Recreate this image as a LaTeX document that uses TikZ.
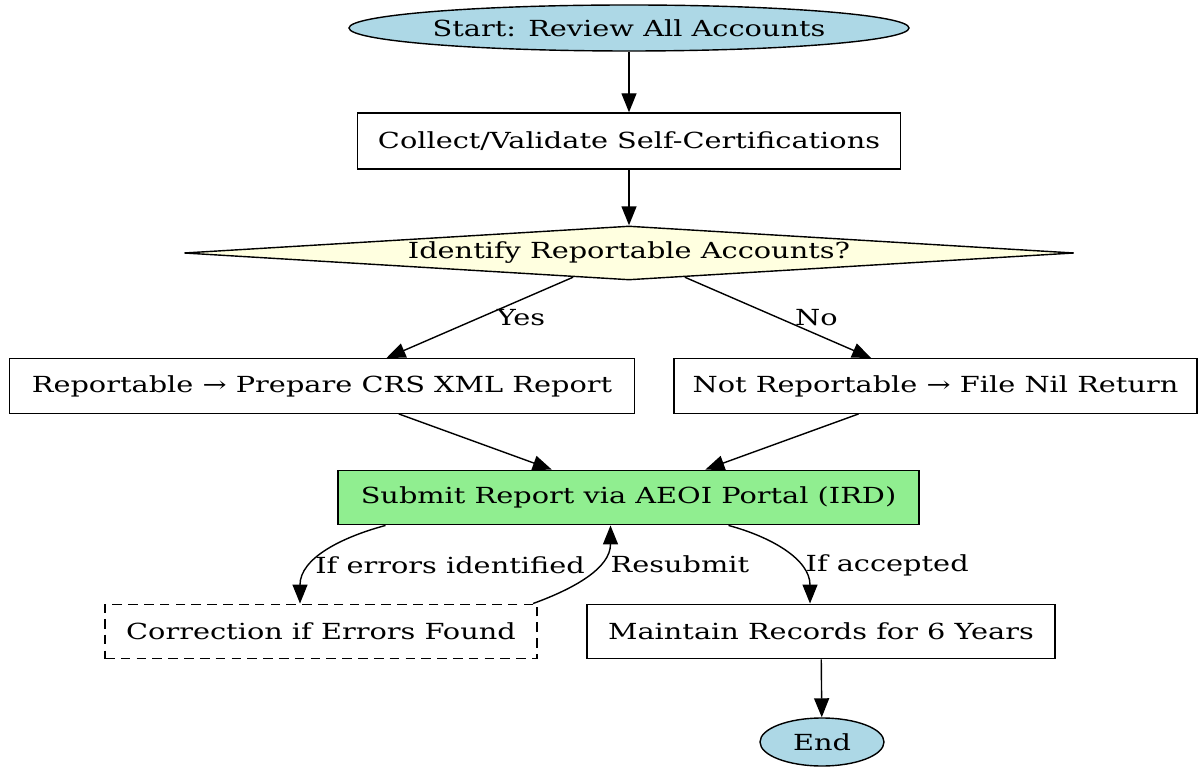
\documentclass[tikz,border=0pt]{standalone}
\usepackage{fontspec}
\setmainfont{DejaVu Serif}[FakeStretch=1.3]
\usepackage{xcolor}
\usetikzlibrary{shapes.geometric,arrows.meta}
\definecolor{lightblue}{HTML}{ADD8E6}
\definecolor{lightyellow}{HTML}{FFFFE0}
\definecolor{lightgreen}{HTML}{90EE90}

\begin{document}
\begin{tikzpicture}[
    every node/.style={font=\fontsize{12.6}{14}\selectfont},
    terminal/.style={ellipse, draw, line width=0.8pt, fill=lightblue, inner sep=0pt},
    process/.style={rectangle, draw, line width=0.8pt, minimum height=1.09cm, inner sep=0pt},
    decision/.style={diamond, draw, line width=0.8pt, fill=lightyellow, aspect=16.5, inner sep=0pt},
    fixbox/.style={process, dash pattern=on 5.5pt off 3.5pt},
    >={Triangle[length=0.38cm,width=0.3cm]},
    line width=0.8pt
]
    \useasboundingbox (0,0) rectangle (23.96,-15.34);

    % Start and checks
    \node[terminal, minimum width=11.2cm, minimum height=0.92cm] (start) at (12.58,-0.56) {Start: Review All Accounts};
    \node[process, minimum width=10.86cm, minimum height=1.12cm] (collect) at (12.58,-2.82) {Collect/Validate Self-Certifications};
    \node[decision, minimum width=17.8cm, minimum height=1.08cm] (decide) at (12.58,-5.06) {Identify Reportable Accounts?};

    % Two outcomes
    \node[process, minimum width=12.5cm] (rep) at (6.44,-7.72) {Reportable → Prepare CRS XML Report};
    \node[process, minimum width=10.46cm] (nilret) at (18.71,-7.72) {Not Reportable → File Nil Return};

    % Submission
    \node[process, fill=lightgreen, minimum width=11.62cm] (submit) at (12.57,-9.95) {Submit Report via AEOI Portal (IRD)};
    \node[fixbox, minimum width=8.64cm] (fix) at (6.42,-12.63) {Correction if Errors Found};
    \node[process, minimum width=9.36cm] (keep) at (16.42,-12.63) {Maintain Records for 6 Years};
    \node[terminal, minimum width=2.48cm, minimum height=0.96cm] (end) at (16.44,-14.84) {End};

    % Connections
    \draw[->] (start) -- (collect);
    \draw[->] (collect) -- (decide);
    \draw[->] (decide) -- node[pos=0.5, right=6pt] {Yes} (rep);
    \draw[->] (decide) -- node[pos=0.5, right=6pt] {No} (nilret);
    \draw[->] (rep) -- (submit);
    \draw[->] (nilret) -- (submit);

    \draw[->] ([xshift=-4.86cm]submit.south) to[out=195, in=90]
        node[pos=0.66, right, inner sep=1pt] {If errors identified} ([xshift=-0.42cm]fix.north);
    \draw[->] ([xshift=4.24cm]fix.north) to[out=20, in=270]
        node[pos=0.64, right, inner sep=2pt, xshift=5pt] {Resubmit} ([xshift=-0.36cm]submit.south);
    \draw[->] ([xshift=2.0cm]submit.south) to[out=-15, in=90]
        node[pos=0.66, right, inner sep=1pt, xshift=3pt] {If accepted} ([xshift=-0.22cm]keep.north);
    \draw[->] (keep) -- (end);

\end{tikzpicture}
\end{document}
